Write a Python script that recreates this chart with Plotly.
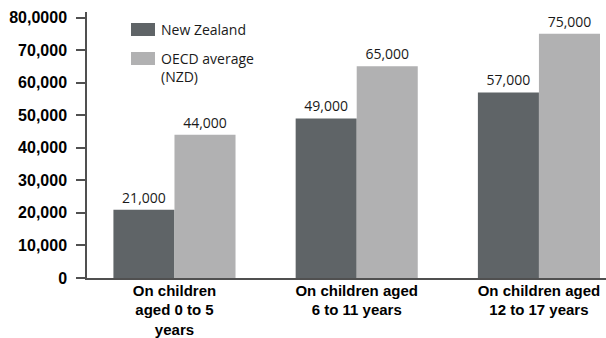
import plotly.graph_objects as go

# ---- data ----
categories = [
    "On children<br>aged 0 to 5<br>years",
    "On children aged<br>6 to 11 years",
    "On children aged<br>12 to 17 years",
]
series_names = ["New Zealand", "OECD average<br>(NZD)"]
nz_values = [21000, 49000, 57000]
oecd_values = [44000, 65000, 75000]
y_tick_values = [0, 10000, 20000, 30000, 40000, 50000, 60000, 70000, 80000]
y_tick_labels = ["0", "10,000", "20,000", "30,000", "40,000", "50,000",
                 "60,000", "70,000", "80,0000"]

# ---- style ----
colors = ["#5f6467", "#b1b1b2"]
label_font = dict(family="Open Sans", size=14, color="#1a1a1a")
axis_color = "#505050"

fig = go.Figure()
for name, vals, col in zip(series_names, [nz_values, oecd_values], colors):
    fig.add_trace(go.Bar(
        x=categories, y=vals, name=name,
        marker=dict(color=col, line=dict(width=0)),
        texttemplate="%{y:,}", textposition="outside",
        textfont=label_font, cliponaxis=False, showlegend=False,
    ))

# custom legend (wide rectangles like the reference)
W, H = 519.0, 266.0  # plot area size in px
def px_x(px):
    return (px - 87) / W
def px_y(py):
    return (278 - py) / H

legend_rows = [(23, 36, 29.5), (52, 65, 67)]
for (top, bot, yc), col, name in zip(legend_rows, colors, series_names):
    fig.add_shape(type="rect", xref="paper", yref="paper",
                  x0=px_x(131), x1=px_x(155), y0=px_y(bot), y1=px_y(top),
                  fillcolor=col, line=dict(width=0))
    fig.add_annotation(xref="paper", yref="paper", x=px_x(159), y=px_y(yc),
                       text=name, showarrow=False, xanchor="left", yanchor="middle",
                       align="left", font=label_font)

fig.update_layout(
    width=606, height=338,
    margin=dict(l=87, r=0, t=12, b=60, autoexpand=False),
    paper_bgcolor="white", plot_bgcolor="white",
    barmode="group", bargap=0.33, bargroupgap=0,
    font=dict(family="Liberation Sans", color="#000000"),
)
fig.update_xaxes(
    type="category", range=[-0.48, 2.368], automargin=False,
    showline=True, linecolor=axis_color, linewidth=1.5,
    ticks="", showgrid=False, zeroline=False, ticklabelstandoff=-2,
    tickfont=dict(family="Liberation Sans", size=15, color="#000000", weight="bold"),
)
fig.update_yaxes(
    range=[0, 81700], tickmode="array", automargin=False,
    tickvals=y_tick_values, ticktext=y_tick_labels,
    showline=True, linecolor=axis_color, linewidth=1.5,
    ticks="outside", ticklen=9, tickcolor=axis_color, tickwidth=1.5,
    ticklabelstandoff=6,
    showgrid=False, zeroline=False,
    tickfont=dict(family="Liberation Sans", size=16, color="#000000", weight="bold"),
)

fig.write_html("out.html")
